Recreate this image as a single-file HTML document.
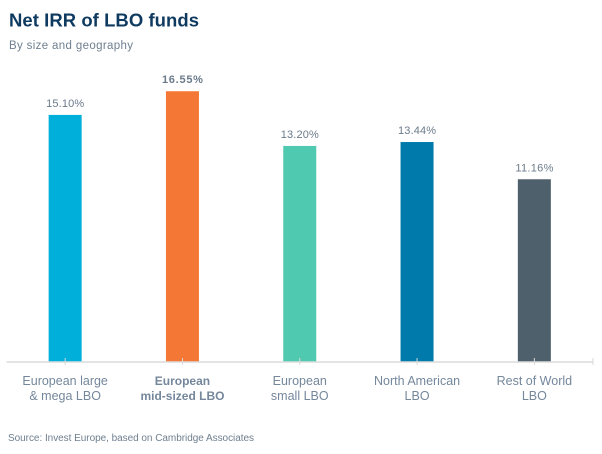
<!DOCTYPE html>
<html>
<head>
<meta charset="utf-8">
<style>
html,body{margin:0;padding:0;background:#fff;width:602px;height:454px;overflow:hidden}
svg{display:block}
text{font-family:"Liberation Sans",sans-serif}
</style>
</head>
<body>
<svg id="chart" width="602" height="454" viewBox="0 0 602 454">
<text x="9" y="26.5" font-size="18.5" font-weight="700" fill="#0f3a5f" textLength="190" lengthAdjust="spacing">Net IRR of LBO funds</text>
<text x="9" y="49" font-size="11.5" fill="#6f7f8f" textLength="124" lengthAdjust="spacing">By size and geography</text>
<text x="8" y="441" font-size="10" fill="#6f7f8f" textLength="246" lengthAdjust="spacing">Source: Invest Europe, based on Cambridge Associates</text>
</svg>
<script>
const categories = [
  ["European large", "& mega LBO"],
  ["European", "mid-sized LBO"],
  ["European", "small LBO"],
  ["North American", "LBO"],
  ["Rest of World", "LBO"]
];
const irrValues = [15.10, 16.55, 13.20, 13.44, 11.16];
const valueLabels = ["15.10%", "16.55%", "13.20%", "13.44%", "11.16%"];
const barColors = ["#00b0da", "#f47735", "#50c9b1", "#007aab", "#4f606d"];
const highlighted = [false, true, false, false, false];

const svg = document.getElementById('chart');
const NS = 'http://www.w3.org/2000/svg';
const axisLeft = 6.5, axisRight = 593, baseY = 361.5, pxPerUnit = 16.33, barW = 33;
const bandW = (axisRight - axisLeft) / categories.length;
const xCenter = i => axisLeft + bandW * (i + 0.5);
const yValue = v => baseY - v * pxPerUnit;

function make(tag, attrs, text) {
  const el = document.createElementNS(NS, tag);
  for (const k in attrs) el.setAttribute(k, attrs[k]);
  if (text !== undefined) el.textContent = text;
  svg.appendChild(el);
  return el;
}

irrValues.forEach((v, i) => {
  const cx = xCenter(i);
  const bar = make('rect', {x: cx - barW / 2, y: yValue(v), width: barW, height: baseY - yValue(v), fill: barColors[i]});
  
  
  const label = make('text', {x: cx, y: yValue(v) - 8, 'text-anchor': 'middle', 'font-size': 11, 'font-weight': highlighted[i] ? 700 : 400, fill: '#6b7b8b', textLength: highlighted[i] ? 41 : 38, lengthAdjust: 'spacing'}, valueLabels[i]);
  
  
  categories[i].forEach((line, j) => {
    const cat = make('text', {x: cx, y: 385 + j * 15, 'text-anchor': 'middle', 'font-size': highlighted[i] ? 12 : 12.5, 'font-weight': highlighted[i] ? 700 : 400, fill: '#74879b'}, line);
    
    
  });
});

const axis = make('line', {x1: axisLeft, x2: axisRight, y1: 362, y2: 362, stroke: '#dcdcdc', 'stroke-width': 1.5});



categories.forEach((c, i) => {
  const tick = make('line', {x1: xCenter(i), x2: xCenter(i), y1: 358, y2: 365, stroke: '#d8d8d8', 'stroke-width': 1});
  
  
});
const endTick = make('line', {x1: axisRight, x2: axisRight, y1: 358, y2: 365, stroke: '#d8d8d8', 'stroke-width': 1});


</script>
</body>
</html>
